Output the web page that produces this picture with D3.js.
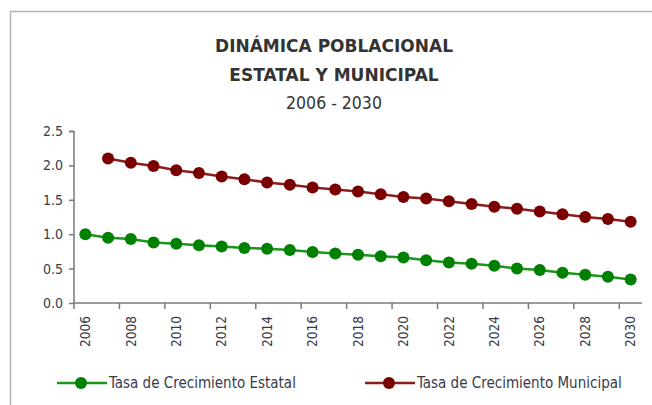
<!DOCTYPE html>
<html>
<head>
<meta charset="utf-8">
<script src="https://cdn.jsdelivr.net/npm/d3@7"></script>
<style>
  body { margin: 0; background: #fff; }
  svg { display: block; }
</style>
</head>
<body>
<div id="chart"></div>
<script>
// categories and series
var years = d3.range(2006, 2031);
var estatal = [1.00, 0.95, 0.93, 0.88, 0.86, 0.84, 0.82, 0.80, 0.79, 0.77, 0.74,
               0.72, 0.70, 0.68, 0.66, 0.62, 0.59, 0.57, 0.54, 0.50, 0.48,
               0.44, 0.41, 0.38, 0.34];
var municipalYears = d3.range(2007, 2031);
var municipal = [2.10, 2.04, 1.99, 1.93, 1.89, 1.84, 1.80, 1.75, 1.72, 1.68,
                 1.65, 1.62, 1.58, 1.54, 1.52, 1.48, 1.44, 1.40, 1.37, 1.33,
                 1.29, 1.25, 1.22, 1.18];
var yTicks = [0, 0.5, 1.0, 1.5, 2.0, 2.5];
var xLabelYears = years.filter(d => (d - 2006) % 2 === 0);

var svgWidth = 652, svgHeight = 405;
var margin = { top: 131, right: 10, bottom: 102, left: 74 };
var chartWidth = 642 - margin.left;
var chartHeight = svgHeight - margin.top - margin.bottom;

var svg = d3.select("#chart").append("svg")
  .attr("width", svgWidth)
  .attr("height", svgHeight);

// frame (only top and left edge visible)
svg.append("path")
  .attr("d", "M10.5," + svgHeight + "V11.5H" + svgWidth)
  .attr("fill", "none")
  .attr("stroke", "#b4b4b4")
  .attr("stroke-width", 1.5);

// titles
svg.append("text")
  .attr("x", 334).attr("y", 52)
  .attr("text-anchor", "middle")
  .attr("font-family", "'DejaVu Sans', sans-serif")
  .attr("font-weight", "bold")
  .attr("font-size", 17)
  .attr("fill", "#333")
  .text("DINÁMICA POBLACIONAL");
svg.append("text")
  .attr("x", 334).attr("y", 81)
  .attr("text-anchor", "middle")
  .attr("font-family", "'DejaVu Sans', sans-serif")
  .attr("font-weight", "bold")
  .attr("font-size", 17)
  .attr("fill", "#333")
  .text("ESTATAL Y MUNICIPAL");
svg.append("text")
  .attr("x", 334).attr("y", 109)
  .attr("text-anchor", "middle")
  .attr("font-family", "'DejaVu Sans Condensed', 'DejaVu Sans', sans-serif")
  .attr("font-size", 17.5)
  .attr("fill", "#333")
  .text("2006 - 2030");

var chartGroup = svg.append("g")
  .attr("transform", `translate(${margin.left}, ${margin.top})`);

// scales
var xScale = d3.scaleBand()
  .domain(years)
  .range([0, chartWidth])
  .padding(0);

var yScale = d3.scaleLinear()
  .domain([0, 2.5])
  .range([chartHeight, 0]);

var tickFont = "'DejaVu Sans Condensed', 'DejaVu Sans', sans-serif";
var axisColor = "#7a7a7a";
var labelColor = "#363b4c";

// y axis
var yAxis = d3.axisLeft(yScale)
  .tickValues(yTicks)
  .tickFormat(d3.format(".1f"))
  .tickSize(5)
  .tickPadding(6);

var yG = chartGroup.append("g").call(yAxis);
yG.select(".domain").attr("stroke", axisColor).attr("stroke-width", 1.5)
  .attr("d", "M-5,0.5H0V" + chartHeight);
yG.selectAll(".tick line").attr("stroke", axisColor).attr("stroke-width", 1.5);
yG.selectAll(".tick text")
  .attr("font-family", tickFont)
  .attr("font-size", 14)
  .attr("fill", labelColor);

// x axis: labels at category centres, ticks at every second category boundary
var xAxis = d3.axisBottom(xScale)
  .tickValues(xLabelYears)
  .tickSize(0)
  .tickPadding(0);

var xG = chartGroup.append("g")
  .attr("transform", `translate(0, ${chartHeight})`)
  .call(xAxis);
xG.select(".domain").attr("stroke", axisColor).attr("stroke-width", 1.5)
  .attr("d", "M0,0H" + chartWidth);
xG.selectAll(".tick text")
  .attr("font-family", tickFont)
  .attr("font-size", 13.5)
  .attr("fill", labelColor)
  .attr("transform", "rotate(-90)")
  .attr("text-anchor", "end")
  .attr("x", -13)
  .attr("y", 0)
  .attr("dy", "0.35em");

xG.selectAll(".bound")
  .data(xLabelYears)
  .enter()
  .append("line")
  .classed("bound", true)
  .attr("x1", d => xScale(d))
  .attr("x2", d => xScale(d))
  .attr("y1", 0)
  .attr("y2", 6)
  .attr("stroke", axisColor)
  .attr("stroke-width", 1.5);

var cx = d => xScale(d) + xScale.bandwidth() / 2;

var series = [
  { name: "Tasa de Crecimiento Estatal", x: years, y: estatal, line: "#1a961a", dot: "#008000" },
  { name: "Tasa de Crecimiento Municipal", x: municipalYears, y: municipal, line: "#8a1c1c", dot: "#7a0000" }
];

var line = d3.line()
  .x(d => cx(d[0]))
  .y(d => yScale(d[1]));

series.forEach(function(s) {
  var pts = s.x.map((d, i) => [d, s.y[i]]);
  chartGroup.append("path")
    .datum(pts)
    .attr("d", line)
    .attr("fill", "none")
    .attr("stroke", s.line)
    .attr("stroke-width", 2.5);
  chartGroup.selectAll(null)
    .data(pts)
    .enter()
    .append("circle")
    .attr("cx", d => cx(d[0]))
    .attr("cy", d => yScale(d[1]))
    .attr("r", 6)
    .attr("fill", s.dot);
});

// legend
var legendX = [57, 365];
series.forEach(function(s, i) {
  var g = svg.append("g").attr("transform", `translate(${legendX[i]}, 383)`);
  g.append("line")
    .attr("x1", 0).attr("x2", 50)
    .attr("stroke", s.line)
    .attr("stroke-width", 2.5);
  g.append("circle")
    .attr("cx", 24).attr("r", 6)
    .attr("fill", s.dot);
  g.append("text")
    .attr("x", 52)
    .attr("dy", "0.35em")
    .attr("font-family", tickFont)
    .attr("font-size", 15)
    .attr("fill", labelColor)
    .text(s.name);
});
</script>
</body>
</html>
